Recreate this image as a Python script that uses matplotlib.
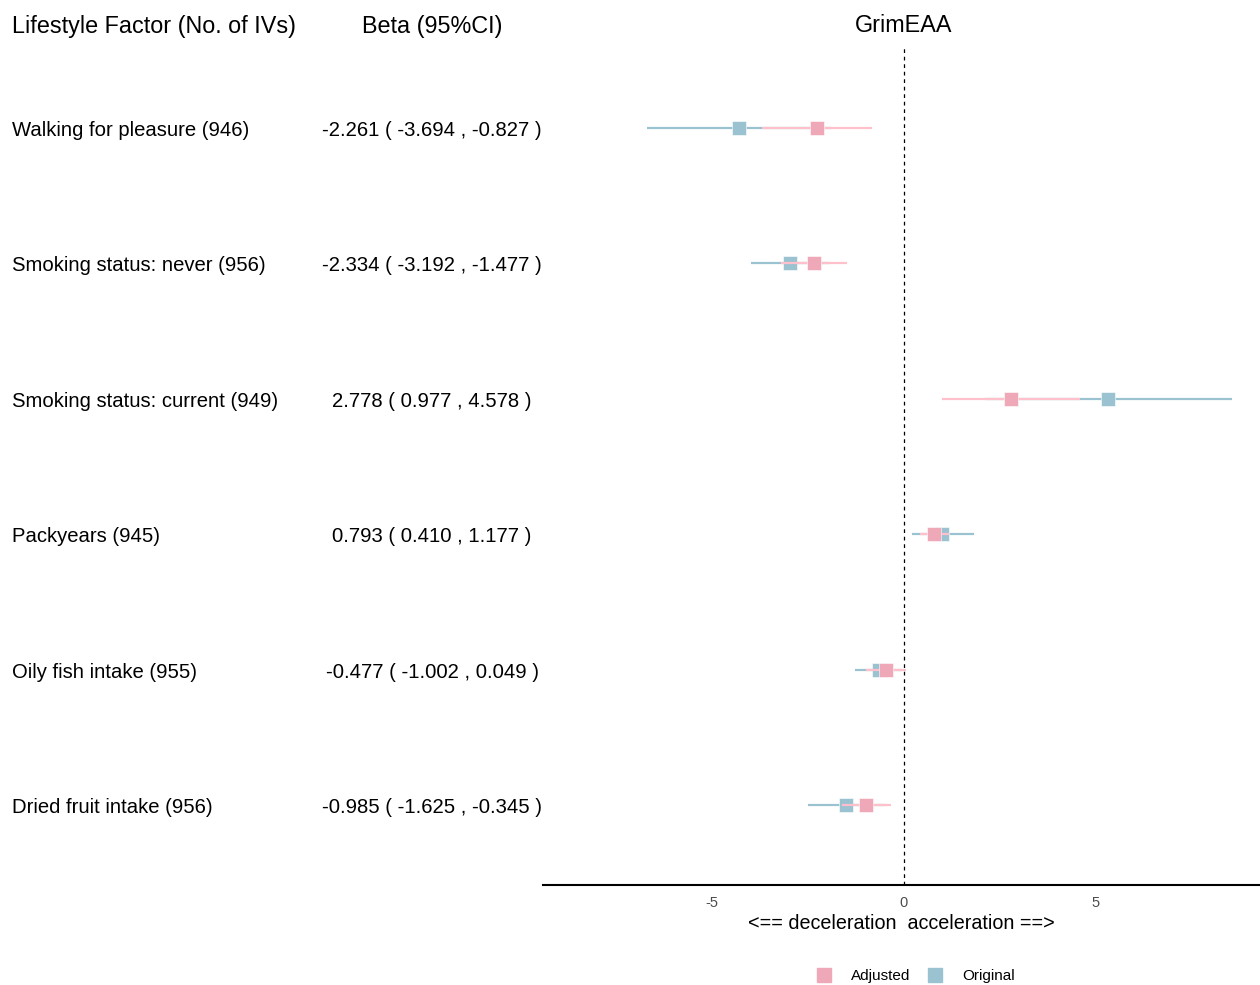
import matplotlib.pyplot as plt
from matplotlib.lines import Line2D
import matplotlib.transforms as mtransforms
import numpy as np

plt.rcParams['font.family'] = ['Liberation Sans', 'DejaVu Sans']

# data
factors = ['Walking for pleasure (946)', 'Smoking status: never (956)',
           'Smoking status: current (949)', 'Packyears (945)',
           'Oily fish intake (955)', 'Dried fruit intake (956)']
adj_beta = [-2.261, -2.334, 2.778, 0.793, -0.477, -0.985]
adj_lo = [-3.694, -3.192, 0.977, 0.410, -1.002, -1.625]
adj_hi = [-0.827, -1.477, 4.578, 1.177, 0.049, -0.345]
orig_beta = [-4.30, -2.97, 5.31, 1.00, -0.66, -1.51]
orig_lo = [-6.69, -3.98, 2.10, 0.21, -1.28, -2.50]
orig_hi = [-1.90, -1.96, 8.54, 1.82, -0.05, -0.50]

col_adj_line = '#FFC0CB'
col_adj_pt = '#EFA8B8'
col_orig = '#9AC2D1'

fig = plt.figure(figsize=(12.6, 9.85), dpi=100, facecolor='white')
ax = fig.add_axes([543 / 1260, 100 / 985, 1 - 543 / 1260, (885 - 48) / 985])

n = len(factors)
ypos = np.arange(n, 0, -1)

# original first, adjusted drawn on top
ax.hlines(ypos, orig_lo, orig_hi, color=col_orig, lw=1.6, zorder=2)
ax.plot(orig_beta, ypos, 's', color=col_orig, ms=9.5, mec='white', mew=0.4, zorder=3)
ax.hlines(ypos, adj_lo, adj_hi, color=col_adj_line, lw=1.6, zorder=4)
ax.plot(adj_beta, ypos, 's', color=col_adj_pt, ms=9.5, mec='white', mew=0.4, zorder=5)

ax.axvline(0, color='black', lw=0.9, ls=(0, (3, 3)), zorder=1)

ax.set_xlim(-9.4, 9.27)
ax.set_ylim(0.41, 6.59)
ax.set_xticks([-5, 0, 5])
ax.set_xticklabels(['-5', '0', '5'])
ax.tick_params(axis='x', length=0, labelsize=10.5, labelcolor='#4D4D4D', pad=8)
ax.set_yticks([])
for s in ['top', 'right', 'left']:
    ax.spines[s].set_visible(False)
ax.spines['bottom'].set_linewidth(1.5)
ax.set_xlabel('<== deceleration  acceleration ==>', fontsize=14.2, labelpad=3)

# header texts
hy = 1 - 26 / 985
fig.text(12 / 1260, hy, 'Lifestyle Factor (No. of IVs)', fontsize=16.8,
         ha='left', va='center')
fig.text(432 / 1260, hy, 'Beta (95%CI)', fontsize=16.8, ha='center', va='center')
fig.text(904 / 1260, hy, 'GrimEAA', fontsize=16.8, ha='center', va='center')

# row labels
trans = mtransforms.blended_transform_factory(fig.transFigure, ax.transData)
dy = -0.018
for i in range(n):
    fig.text(12 / 1260, ypos[i] + dy, factors[i], transform=trans, fontsize=14.6,
             ha='left', va='center')
    lbl = f'{adj_beta[i]:.3f} ( {adj_lo[i]:.3f} , {adj_hi[i]:.3f} )'
    fig.text(432 / 1260, ypos[i] + dy, lbl, transform=trans, fontsize=14.6,
             ha='center', va='center')

handles = [Line2D([], [], marker='s', ls='', color=col_adj_pt, ms=10),
           Line2D([], [], marker='s', ls='', color=col_orig, ms=10)]
fig.legend(handles, ['Adjusted', 'Original'], loc='center', ncol=2,
           bbox_to_anchor=(912 / 1260, 1 - 976 / 985), frameon=False,
           fontsize=11, handletextpad=0.8, columnspacing=0.6)

fig.savefig('out.png', dpi=100, facecolor='white')
